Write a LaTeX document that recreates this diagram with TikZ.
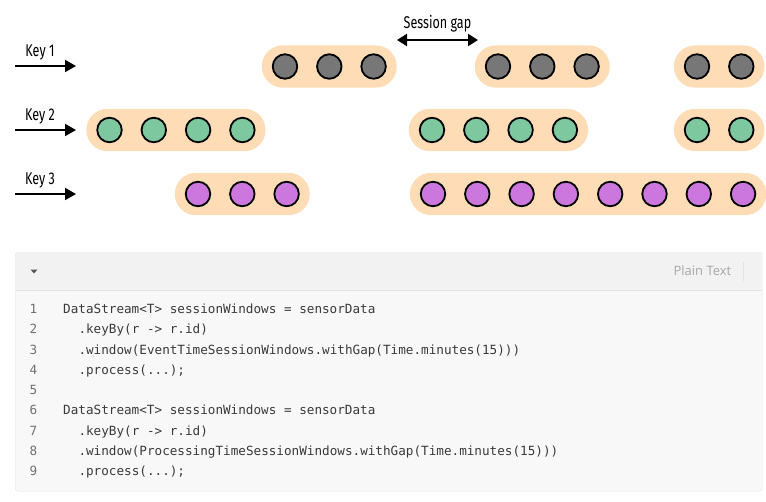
\documentclass[tikz,border=0pt]{standalone}
\usepackage{fontspec}
\setmainfont{Liberation Sans}
\newfontfamily\labelfont[FakeStretch=0.74]{Fira Sans}
\newfontfamily\uifont{Open Sans}
\newfontfamily\codefont{DejaVu Sans Mono}
\usetikzlibrary{arrows.meta,fit,backgrounds}

\definecolor{peach}{HTML}{FDDCB6}
\definecolor{grayball}{HTML}{777777}
\definecolor{greenball}{HTML}{7EC8A0}
\definecolor{purpleball}{HTML}{CC77DE}
\definecolor{panelbody}{HTML}{F8F8F8}
\definecolor{panelhead}{HTML}{F2F2F2}
\definecolor{panelrule}{HTML}{E2E2E2}
\definecolor{codetext}{HTML}{3A3A3A}
\definecolor{linenum}{HTML}{707070}
\definecolor{uitext}{HTML}{A8A8A8}

\tikzset{
  x=1pt, y=-1pt,
  dot/.style={circle, draw=black, line width=1.8pt, minimum size=24.5pt, inner sep=0pt},
  pill/.style={draw=none, fill=peach, rounded corners=21pt, inner xsep=10pt, inner ysep=8pt},
  keyarrow/.style={line width=2pt, -{Triangle[length=11pt,width=12pt]}},
  gaparrow/.style={line width=2pt, {Triangle[length=10pt,width=12pt]}-{Triangle[length=10pt,width=12pt]}},
  keylabel/.style={font=\labelfont\fontsize{17}{20}\selectfont, inner sep=0pt},
  codeline/.style={font=\codefont\fontsize{12.65}{15}\selectfont, text=codetext, anchor=base west, inner sep=0pt},
  numline/.style={font=\codefont\fontsize{12.65}{15}\selectfont, text=linenum, anchor=base, inner sep=0pt},
}

\begin{document}
\begin{tikzpicture}
\useasboundingbox (0,0) rectangle (766,501);

% event streams, one row per key
\foreach \k/\y in {1/66, 2/130, 3/194}{
  \coordinate (k\k s) at (15,\y);
  \coordinate (k\k e) at (76,\y);
  \draw[keyarrow] (k\k s) -- (k\k e);
  \node[keylabel] (key\k) at (40,{\y-14}) {Key \k};
}

% session windows: events grouped into pills
\foreach \g/\y/\x/\n/\col in {A/66.5/285/3/grayball, B/66.5/498/3/grayball, C/66.5/697/2/grayball,
    D/130/109.5/4/greenball, E/130/432/4/greenball, F/130/697/2/greenball,
    G/194/198/3/purpleball, H/194/433/8/purpleball}{
  \foreach \i in {1,...,\n}{
    \node[dot, fill=\col] (\g\i) at ({\x+(\i-1)*44.3}, \y) {};
  }
  \begin{scope}[on background layer]
    \node[pill, fit=(\g1) (\g\n)] (pill\g) {};
  \end{scope}
}

% session gap marker
\coordinate (gapl) at (397,40);
\coordinate (gapr) at (478,40);
\draw[gaparrow] (gapl) -- (gapr);
\node[keylabel] (gaplabel) at (437.5,24) {Session gap};

% code panel
\node[draw=panelrule, fill=panelbody, rounded corners=3pt, minimum width=747pt, minimum height=239pt,
      inner sep=0pt, anchor=north west] (panel) at (15,252) {};
\fill[panelhead, rounded corners=3pt] (15.5,252.5) rectangle (761.5,290);
\draw[panelrule] (15.5,290) -- (761.5,290);
\fill[black!65] (30.5,269.5) -- (37.5,269.5) -- (34,273.5) -- cycle;
\node[font=\uifont\fontsize{13}{15}\selectfont, text=uitext, anchor=east, inner sep=0pt] (lang) at (731.5,271) {Plain Text};
\draw[panelrule, line width=0.8pt] (743,262) -- (743,281);

% code listing
\foreach \n/\t/\ind in {
  1/{DataStream<T> sessionWindows = sensorData}/0,
  2/{.keyBy(r -> r.id)}/1,
  3/{.window(EventTimeSessionWindows.withGap(Time.minutes(15)))}/1,
  4/{.process(...);}/1,
  5/{}/0,
  6/{DataStream<T> sessionWindows = sensorData}/0,
  7/{.keyBy(r -> r.id)}/1,
  8/{.window(ProcessingTimeSessionWindows.withGap(Time.minutes(15)))}/1,
  9/{.process(...);}/1}{
  \node[numline] (n\n) at (33.5,{313.5+(\n-1)*20.25}) {\n};
  \node[codeline] (c\n) at ({63+\ind*15.3},{313.5+(\n-1)*20.25}) {\t};
}
\end{tikzpicture}
\end{document}
